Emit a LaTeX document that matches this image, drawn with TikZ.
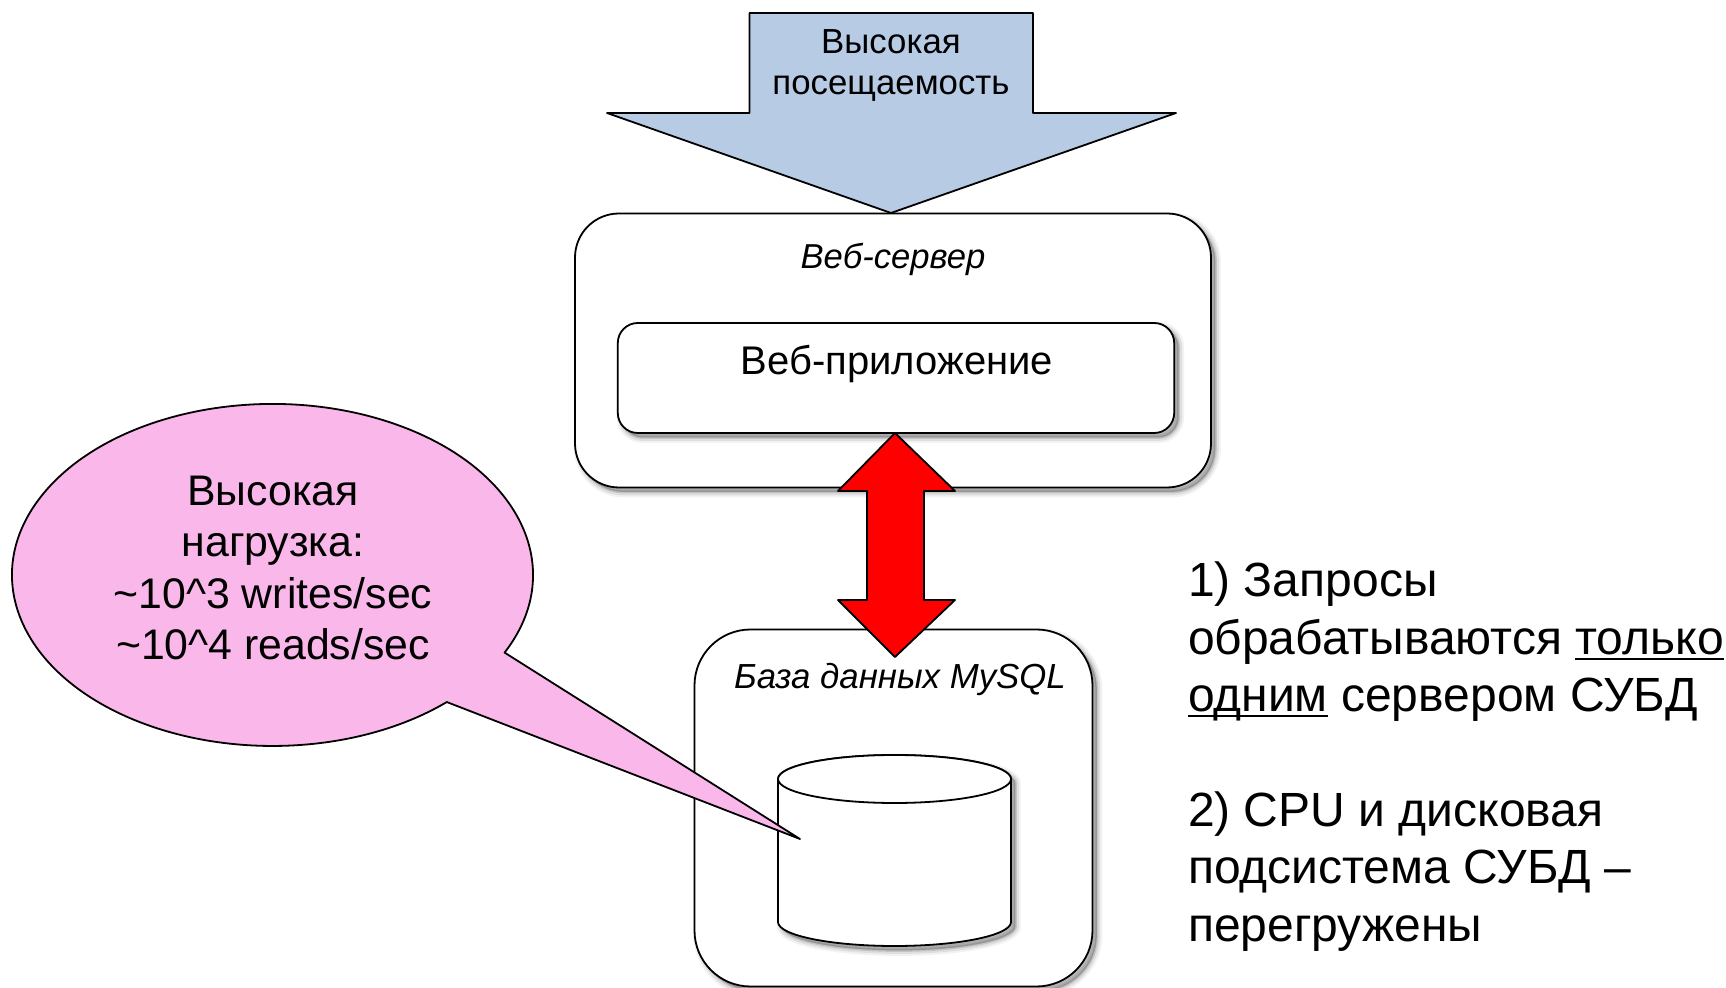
\documentclass[tikz,border=0pt]{standalone}
\usepackage{fontspec}
\setmainfont{Liberation Sans}
\definecolor{bluefill}{RGB}{183,203,228}
\definecolor{pinkfill}{RGB}{250,183,234}
\newcommand{\ulmark}[1]{{\setbox0\hbox{#1}\rlap{\rule[-2.6pt]{\wd0}{1pt}}\box0}}
\tikzset{
  softshadow/.style={
    preaction={draw=black,fill=black,opacity=.05,line width=5.5pt,transform canvas={shift={(2.2pt,-2.2pt)}}},
    preaction={draw=black,fill=black,opacity=.08,line width=3.5pt,transform canvas={shift={(2.2pt,-2.2pt)}}},
    preaction={draw=black,fill=black,opacity=.12,line width=1.5pt,transform canvas={shift={(2.2pt,-2.2pt)}}}},
  outline/.style={draw=black,line width=.9pt,line join=round},
  roundbox/.style={outline,fill=white,softshadow,inner sep=0pt,outer sep=0pt},
  label/.style={inner sep=0pt,outer sep=0pt,align=center,text=black},
  sidetext/.style={inner sep=0pt,outer sep=0pt,align=left,anchor=north west,text=black,font=\fontsize{24}{28.8}\selectfont}
}
\begin{document}
\begin{tikzpicture}[x=0.5pt,y=-0.5pt]
\useasboundingbox (0,0) rectangle (1726,988);
% web server
\node[roundbox,rounded corners=22pt,minimum width=318pt,minimum height=137pt] (web) at (893,350.5) {};
\node[label,font=\itshape\fontsize{17.3}{20}\selectfont] (webl) at (893,259) {Веб-сервер};
\node[roundbox,rounded corners=10pt,minimum width=278.2pt,minimum height=55pt] (app) at (896,378) {};
\node[label,font=\fontsize{20}{24}\selectfont] (appl) at (897,364) {Веб-приложение};
% top arrow
\draw[outline,fill=bluefill] (749.5,13) -- (1033,13) -- (1033,113) -- (1176,113) -- (891,213) -- (607,113) -- (749.5,113) -- cycle;
\node[label,font=\fontsize{17.4}{20.6}\selectfont] (top) at (891,65.5) {Высокая\\посещаемость};
% database
\node[roundbox,rounded corners=28pt,minimum width=199pt,minimum height=178.5pt] (db) at (893.5,808) {};
\node[label,font=\itshape\fontsize{17.4}{20}\selectfont] (dbl) at (900,679) {База данных MySQL};
\draw[outline,fill=white,softshadow] (778,779) -- (778,922) arc[start angle=180,end angle=0,x radius=116.5,y radius=24] -- (1011,779) arc[start angle=0,end angle=-180,x radius=116.5,y radius=24] -- cycle;
\draw[outline,fill=white] (894.5,779) ellipse[x radius=116.5,y radius=24];
% red double arrow
\draw[outline,fill=red] (895,433) -- (955,491) -- (924,491) -- (924,600) -- (955,600) -- (895,657) -- (838,600) -- (867,600) -- (867,491) -- (838,491) -- cycle;
% callout
\coordinate (tailA) at (504.6,652.6);
\coordinate (tailTip) at (800,839);
\draw[outline,fill=pinkfill] (tailA) arc[start angle=27,end angle=-312,x radius=260.5,y radius=171] -- (tailTip) -- cycle;
\node[label,font=\fontsize{21.4}{25.6}\selectfont] (load) at (273,568) {Высокая\\нагрузка:\\\textasciitilde10\textasciicircum3 writes/sec\\\textasciitilde10\textasciicircum4 reads/sec};
% side text
\node[sidetext] (s1) at (1188,562) {1) Запросы\\обрабатываются \ulmark{только}\\\ulmark{одним} сервером СУБД};
\node[sidetext] (s2) at (1188,791.5) {2) CPU и дисковая\\подсистема СУБД –\\перегружены};
\end{tikzpicture}
\end{document}
